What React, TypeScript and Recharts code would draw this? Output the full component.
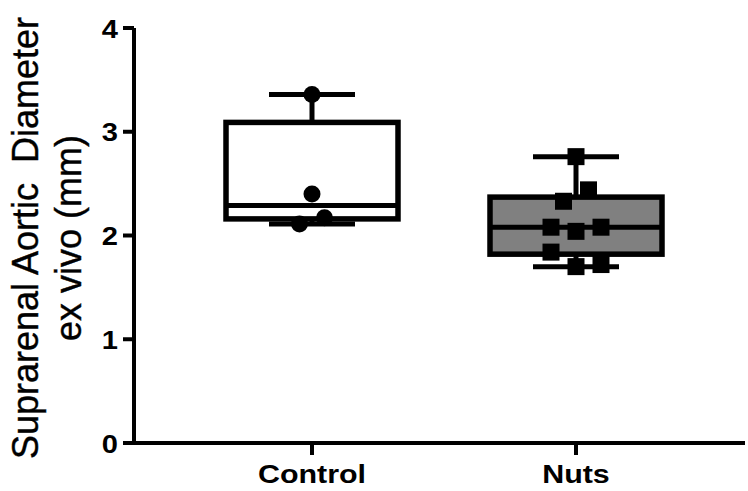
import { Bar, ComposedChart, Line, XAxis, YAxis } from "recharts"

// groups and their box statistics (mm)
const categories = ["Control", "Nuts"]
const boxMin = [2.11, 1.7]
const boxQ1 = [2.16, 1.82]
const boxMedian = [2.29, 2.08]
const boxQ3 = [3.09, 2.37]
const boxMax = [3.36, 2.76]

// individual animals
const controlValues = [3.36, 2.4, 2.17, 2.11]
const nutsValues = [2.76, 2.44, 2.33, 2.08, 2.04, 2.08, 1.84, 1.7, 1.72]

// horizontal column of each dot, in half-dot steps from the group centre
const controlColumns = [0, 0, 1, -1]
const nutsColumns = [0, 1, -1, -2, 0, 2, -2, 0, 2]

const yTicks = [0, 1, 2, 3, 4]

const groupValues = [controlValues, nutsValues]
const groupColumns = [controlColumns, nutsColumns]
const boxFills = ["#ffffff", "#808080"]
const maxDots = Math.max(controlValues.length, nutsValues.length)

const chartData = categories.map((name, i) => {
  const row: Record<string, any> = {
    name,
    box: [boxQ1[i], boxQ3[i]],
    min: boxMin[i],
    median: boxMedian[i],
    max: boxMax[i],
  }
  groupValues[i].forEach((v, j) => {
    row[`p${j}`] = v
  })
  return row
})

const FONT = "'Liberation Sans', Arial, sans-serif"
const COLUMN_STEP = 12.5

function BoxShape(props: any) {
  const { x, y, width, height, payload, index } = props
  const [q1, q3] = payload.box
  const top = Math.min(y, y + height)
  const h = Math.abs(height)
  const pxPerUnit = h / (q3 - q1)
  const yOf = (v: number) => top + (q3 - v) * pxPerUnit
  const cx = x + width / 2
  const cap = width / 4
  return (
    <g>
      <line x1={cx} x2={cx} y1={top} y2={yOf(payload.max)} stroke="#000" strokeWidth={5} />
      <line x1={cx} x2={cx} y1={top + h} y2={yOf(payload.min)} stroke="#000" strokeWidth={5} />
      <line x1={cx - cap} x2={cx + cap} y1={yOf(payload.max)} y2={yOf(payload.max)} stroke="#000" strokeWidth={5} />
      <line x1={cx - cap} x2={cx + cap} y1={yOf(payload.min)} y2={yOf(payload.min)} stroke="#000" strokeWidth={5} />
      <rect x={x} y={top} width={width} height={h} fill={boxFills[index]} stroke="#000" strokeWidth={5.5} />
      <line x1={x} x2={x + width} y1={yOf(payload.median)} y2={yOf(payload.median)} stroke="#000" strokeWidth={5} />
    </g>
  )
}

const renderDot = (j: number) => (props: any) => {
  const { cx, cy, index, value } = props
  const key = `dot-${j}-${index}`
  if (cy == null || value == null || Number.isNaN(cy)) return <g key={key} />
  const px = cx + groupColumns[index][j] * COLUMN_STEP
  if (index === 0) return <circle key={key} cx={px} cy={cy} r={8.5} fill="#000" />
  return <rect key={key} x={px - 8.5} y={cy - 8.5} width={17} height={17} fill="#000" />
}

function XTick(props: any) {
  const { x, y, payload } = props
  return (
    <g transform={`translate(${x},${y})`}>
      <text
        transform="scale(1.17,1)"
        textAnchor="middle"
        dy={26}
        fill="#000"
        fontFamily={FONT}
        fontWeight="bold"
        fontSize={26}
      >
        {payload.value}
      </text>
    </g>
  )
}

function YTick(props: any) {
  const { x, y, payload } = props
  return (
    <g transform={`translate(${x},${y})`}>
      <text
        transform="scale(1.12,1)"
        textAnchor="end"
        dy={9.5}
        fill="#000"
        fontFamily={FONT}
        fontWeight="bold"
        fontSize={26}
      >
        {payload.value}
      </text>
    </g>
  )
}

function YTitle() {
  return (
    <g fontFamily={FONT} fontSize={36} fill="#000" stroke="#000" strokeWidth={0.4}>
      <text transform="translate(38,238) rotate(-90)" textAnchor="middle" style={{ whiteSpace: "pre" }}>
        Suprarenal Aortic  Diameter
      </text>
      <text transform="translate(81,238) rotate(-90)" textAnchor="middle">
        ex vivo (mm)
      </text>
    </g>
  )
}

export default function App() {
  return (
    <div style={{ position: "absolute", left: 0, top: 0, background: "#fff" }}>
      <ComposedChart
        width={748}
        height={491}
        data={chartData}
        margin={{ top: 28, right: 3, bottom: 0, left: 0 }}
      >
        <XAxis
          dataKey="name"
          height={48}
          padding={{ left: 46, right: 37 }}
          axisLine={{ stroke: "#000", strokeWidth: 4 }}
          tickLine={{ stroke: "#000", strokeWidth: 4 }}
          tickSize={12}
          tickMargin={2}
          tick={<XTick />}
        />
        <YAxis
          width={134}
          domain={[0, 4]}
          ticks={yTicks}
          interval={0}
          axisLine={{ stroke: "#000", strokeWidth: 4 }}
          tickLine={{ stroke: "#000", strokeWidth: 4 }}
          tickSize={11}
          tickMargin={5}
          tick={<YTick />}
          label={<YTitle />}
        />
        <Bar dataKey="box" barSize={172} shape={<BoxShape />} isAnimationActive={false} />
        {Array.from({ length: maxDots }, (_, j) => (
          <Line
            key={j}
            dataKey={`p${j}`}
            stroke="none"
            dot={renderDot(j)}
            activeDot={false}
            isAnimationActive={false}
          />
        ))}
      </ComposedChart>
    </div>
  )
}
